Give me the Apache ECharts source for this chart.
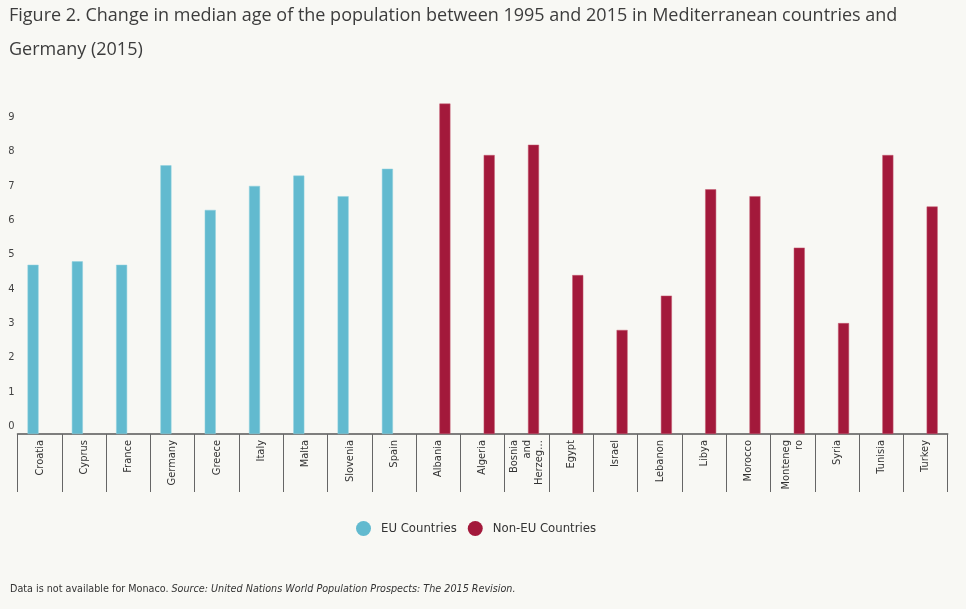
<!DOCTYPE html>
<html>
<head>
<meta charset="utf-8">
<script src="https://cdn.jsdelivr.net/npm/echarts@6/dist/echarts.min.js"></script>
<style>
html,body{margin:0;padding:0;background:#f8f8f4;}
#chart{width:966px;height:609px;}
</style>
</head>
<body>
<div id="chart"></div>
<script>
// Data
const categories = ["Croatia","Cyprus","France","Germany","Greece","Italy","Malta","Slovenia","Spain",
  "Albania","Algeria","Bosnia and Herzegovina","Egypt","Israel","Lebanon","Libya","Morocco","Montenegro","Syria","Tunisia","Turkey"];
const tickLabels = ["Croatia","Cyprus","France","Germany","Greece","Italy","Malta","Slovenia","Spain",
  "Albania","Algeria","Bosnia\nand\nHerzeg…","Egypt","Israel","Lebanon","Libya","Morocco","Monteneg\nro","Syria","Tunisia","Turkey"];
const euValues    = [4.7, 4.8, 4.7, 7.6, 6.3, 7.0, 7.3, 6.7, 7.5, null, null, null, null, null, null, null, null, null, null, null, null];
const nonEuValues = [null, null, null, null, null, null, null, null, null, 9.4, 7.9, 8.2, 4.4, 2.8, 3.8, 6.9, 6.7, 5.2, 3.0, 7.9, 6.4];
const yTickValues = [0,1,2,3,4,5,6,7,8,9];
const seriesNames = ["EU Countries","Non-EU Countries"];
const titleText = "Figure 2. Change in median age of the population between 1995 and 2015 in Mediterranean countries and\nGermany (2015)";
const noteText = "Data is not available for Monaco. ";
const sourceText = "Source: United Nations World Population Prospects: The 2015 Revision.";

const narrow = '"Liberation Sans Narrow", "DejaVu Sans Condensed", "Roboto", sans-serif';
const chart = echarts.init(document.getElementById('chart'));
const labelMap = {};
categories.forEach((c, i) => labelMap[c] = tickLabels[i]);

chart.setOption({
  backgroundColor: '#f8f8f4',
  animation: false,
  title: [{
    text: titleText,
    left: 9, top: -1, padding: 0,
    textStyle: { fontFamily: '"Open Sans", sans-serif', fontSize: 18, fontWeight: 'normal', color: '#3c3c3c', lineHeight: 34 }
  }],
  graphic: [{
    type: 'text', left: 10, top: 584,
    style: {
      rich: {
        a: { fontFamily: narrow, fontSize: 10.7, fill: '#333' },
        b: { fontFamily: narrow, fontSize: 10.7, fill: '#333', fontStyle: 'italic' }
      },
      text: '{a|' + noteText + '}{b|' + sourceText + '}'
    }
  }],
  legend: {
    data: seriesNames,
    left: 351, top: 516,
    icon: 'circle', itemWidth: 15, itemHeight: 15, itemGap: 11,
    itemStyle: { borderWidth: 0 },
    textStyle: { fontFamily: narrow, fontSize: 13, color: '#333', padding: [0, 0, 0, 5] }
  },
  grid: { left: 17.5, right: 18.3, top: 83, bottom: 175 },
  xAxis: {
    type: 'category',
    data: categories,
    axisLine: { onZero: false, lineStyle: { color: '#555', width: 1.5 } },
    axisTick: { show: true, interval: 0, length: 58, lineStyle: { color: '#666', width: 1 } },
    axisLabel: {
      interval: 0, rotate: 90, margin: 6,
      fontFamily: narrow, fontSize: 11, color: '#333', lineHeight: 12.5,
      formatter: v => labelMap[v]
    }
  },
  yAxis: {
    type: 'value',
    min: -0.233, max: 10,
    startValue: -0.233,
    splitLine: { show: false },
    axisLine: { show: false },
    axisTick: { show: false },
    axisLabel: {
      customValues: yTickValues,
      margin: 3,
      fontFamily: narrow, fontSize: 11, color: '#444'
    }
  },
  series: [{
    name: seriesNames[0], type: 'bar', data: euValues,
    barWidth: 11, barGap: '20%',
    itemStyle: { color: '#62bacf', borderColor: '#8fd0de', borderWidth: 0.5 }
  }, {
    name: seriesNames[1], type: 'bar', data: nonEuValues,
    barWidth: 11, barGap: '20%',
    itemStyle: { color: '#a3193b', borderColor: '#c45a70', borderWidth: 0.5 }
  }]
});
</script>
</body>
</html>
